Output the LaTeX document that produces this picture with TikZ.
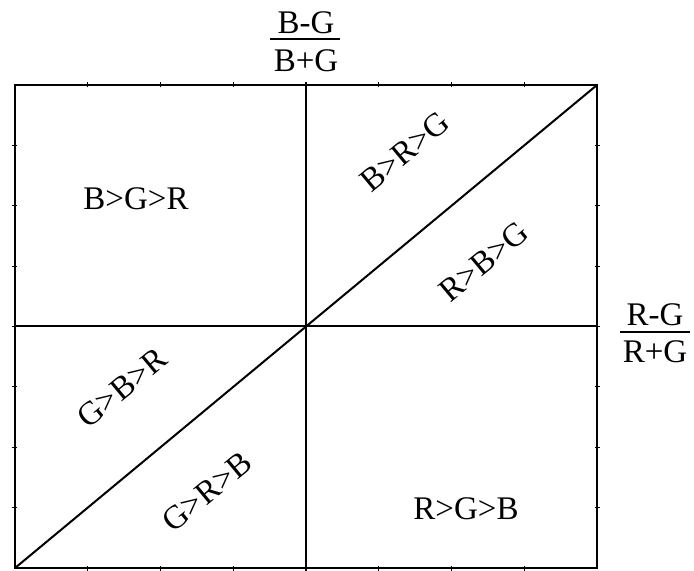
\documentclass[tikz,border=0pt]{standalone}
\usepackage{fontspec}
\setmainfont{Liberation Serif}
\usetikzlibrary{calc}

\begin{document}
\begin{tikzpicture}[x=0.5pt,y=-0.5pt,
  frame/.style={line width=1pt},
  tick/.style={line width=0.6pt},
  fracbar/.style={line width=0.9pt},
  region/.style={font=\fontsize{16.5}{18}\selectfont,inner sep=0pt},
  axislabel/.style={font=\fontsize{16.5}{18}\selectfont,inner sep=0pt}]
  \useasboundingbox (0,0) rectangle (694,570);
  \coordinate (sw) at (15,568);
  \coordinate (ne) at (597,85);
  \coordinate (nw) at (15,85);
  \coordinate (se) at (597,568);
  \coordinate (o) at (306,326);
  % frame and axes
  \draw[frame] (sw) rectangle (ne);
  \draw[frame] (sw |- o) -- (ne |- o);
  \draw[frame] (o |- ne) -- (o |- sw);
  \draw[frame] (sw) -- (ne);
  % ticks
  \foreach \i in {1,...,7} {
    \draw[tick] ($(nw)!\i/8!(ne)$) ++(0,2) -- ++(0,-5);
    \draw[tick] ($(sw)!\i/8!(se)$) ++(0,-2) -- ++(0,5);
    \draw[tick] ($(nw)!\i/8!(sw)$) ++(2,0) -- ++(-5,0);
    \draw[tick] ($(ne)!\i/8!(se)$) ++(-2,0) -- ++(5,0);
  }
  % axis labels
  \node[axislabel] (bgnum) at (306,23) {B-G};
  \node[axislabel] (bgden) at (306,61) {B+G};
  \draw[fracbar] (270,39) -- (340,39);
  \node[axislabel] (rgnum) at (655,315) {R-G};
  \node[axislabel] (rgden) at (655,352) {R+G};
  \draw[fracbar] (620,332) -- (690,332);
  % regions
  \node[region] (bgr) at (136,199) {B>G>R};
  \node[region,rotate=39.7] (brg) at (405,152) {B>R>G};
  \node[region,rotate=39.7] (rbg) at (484,262) {R>B>G};
  \node[region,rotate=39.7] (gbr) at (122,388) {G>B>R};
  \node[region,rotate=39.7] (grb) at (207,492) {G>R>B};
  \node[region] (rgb) at (466,509) {R>G>B};
\end{tikzpicture}
\end{document}
